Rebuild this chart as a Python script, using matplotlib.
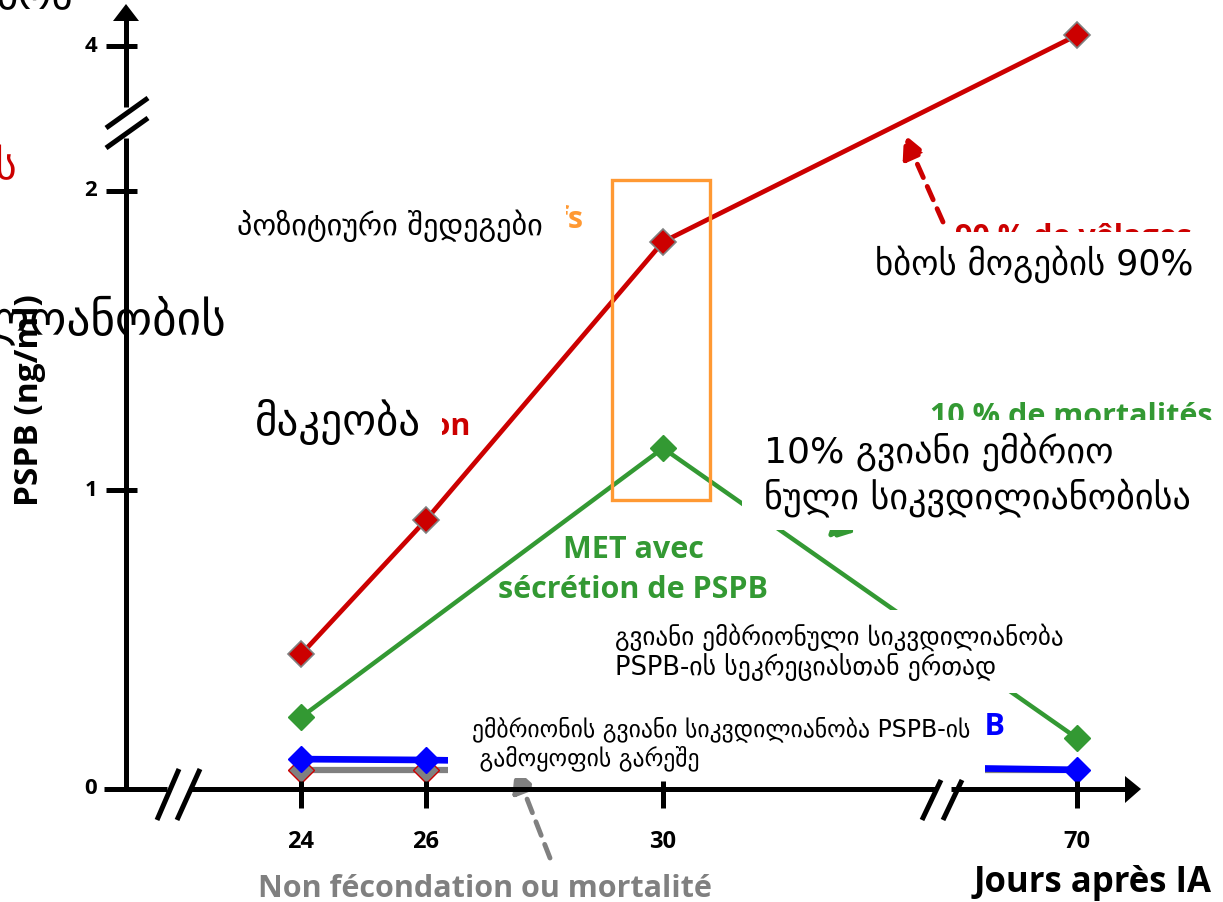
import numpy as np
import matplotlib
matplotlib.use("Agg")
import matplotlib.pyplot as plt
from matplotlib.transforms import Affine2D, blended_transform_factory
from matplotlib.patches import Rectangle, Polygon

# x ticks (days after AI) and y ticks (PSPB ng/ml)
x_ticks = [24, 26, 30, 70]
x_tick_labels = ['24', '26', '30', '70']
y_ticks = [0, 1, 2, 4]
y_tick_labels = ['0', '1', '2', '4']

# series
days_gest = [24, 26, 30, 70]
pspb_gest = [0.45, 0.90, 1.83, 4.15]          # gestation (red)
days_met = [24, 30, 70]
pspb_met = [0.24, 1.14, 0.17]                 # MET avec sécrétion de PSPB (green)
days_met_no = [24, 26, 70]
pspb_met_no = [0.10, 0.097, 0.064]            # MET sans sécrétion (blue)
days_nonfec = [24, 26, 70]
pspb_nonfec = [0.064, 0.064, 0.064]           # non fécondation (gray)

RED = '#CC0000'
GREEN = '#339933'
BLUE = '#0000FF'
GRAY = '#808080'
ORANGE = '#FF9933'
LAT = ['Open Sans', 'DejaVu Sans']
GEO = ['DejaVu Sans']

W, H = 1223, 902
fig = plt.figure(figsize=(W / 100, H / 100), dpi=100)
ax = fig.add_axes([0, 0, 1, 1])
ax.axis('off')

# broken axes: piecewise scales (gap between 30 and 70 days, and between 2 and 4)
xd = [0, 24, 26, 30, 70, 100]
xp = [301 - 24 * 61, 301, 426, 663, 1077, 1077 + 30 * 60]
yd = [-5, 0, 2, 4, 10]
yp = [-5 * 299, 0, 598, 743, 743 + 6 * 72]


def fx(d):
    return np.interp(d, xd, xp)


def ix(p):
    return np.interp(p, xp, xd)


def fy(v):
    return np.interp(v, yd, yp)


def iy(p):
    return np.interp(p, yp, yd)


ax.set_xscale('function', functions=(fx, ix))
ax.set_yscale('function', functions=(fy, iy))
ax.set_xlim(ix(0), ix(W))
ax.set_ylim(iy(789 - H), iy(789))

# picture pixel coordinates (origin top-left) for the slide decorations
px = Affine2D().scale(1 / W, -1 / H).translate(0, 1) + fig.transFigure
xt = blended_transform_factory(ax.transData, px)
yt = blended_transform_factory(px, ax.transData)

# data lines
ax.plot(days_nonfec, pspb_nonfec, color=GRAY, lw=4.5, zorder=2)
ax.plot(days_nonfec[:2], pspb_nonfec[:2], 'D', ms=13, mfc=GRAY, mec=RED, mew=1, zorder=2)
ax.plot(days_met_no, pspb_met_no, color=BLUE, lw=4.8, marker='D', ms=13,
        mfc=BLUE, mec=BLUE, zorder=2.1)
ax.plot(days_met, pspb_met, color=GREEN, lw=3.2, marker='D', ms=13,
        mfc=GREEN, mec=GREEN, zorder=2.2)
ax.plot(days_gest, pspb_gest, color=RED, lw=3.4, marker='D', ms=13,
        mfc=RED, mec=GRAY, mew=1.2, zorder=2.3)

# highlight box around day 30
ax.add_patch(Rectangle((612, 180), 98, 320, fill=False, ec=ORANGE, lw=2.4,
                       transform=px, zorder=2.5))

# French labels (partly hidden under the Georgian ones)
fr = dict(fontsize=22, fontweight='bold', family=LAT, va='baseline',
          transform=px, zorder=3)
ax.text(633, 558, 'MET avec', color=GREEN, ha='center', **fr)
ax.text(633, 598, 'sécrétion de PSPB', color=GREEN, ha='center', **fr)
ax.text(955, 246, '90 % de vêlages', color=RED, ha='left', **fr)
ax.text(930, 425, '10 % de mortalités', color=GREEN, ha='left', **fr)
ax.text(1005, 735, 'MET sans sécrétion de PSPB', color=BLUE, ha='right', **fr)
ax.text(583, 228, 'Diagnostics positifs', color=ORANGE, ha='right', **fr)
ax.text(471, 435, 'Gestation', color=RED, ha='right', **fr)
ax.text(258, 897, 'Non fécondation ou mortalité', color=GRAY, ha='left', **fr)

# dashed arrows
for tip, tail, col in [((904, 134), (943, 222), RED),
                       ((515, 768), (550, 858), GRAY),
                       ((826, 541), (900, 470), GREEN)]:
    ax.annotate('', xy=tip, xytext=tail, xycoords=px, textcoords=px,
                arrowprops=dict(arrowstyle='-|>,head_length=0.7,head_width=0.35',
                                color=col, lw=3.5, ls=(0, (3, 2)), mutation_scale=20,
                                shrinkA=0, shrinkB=0), zorder=3)

# white boxes of the Georgian overlay
masks = [(225, 200, 566, 250), (240, 395, 442, 460), (860, 232, 1215, 295),
         (742, 420, 1223, 530), (600, 610, 1100, 693), (448, 705, 985, 778)]
for x0, y0, x1, y1 in masks:
    ax.add_patch(Rectangle((x0, y0), x1 - x0, y1 - y0, fc='white', ec='none',
                           transform=px, zorder=4))

# Georgian texts
geo = [
    (237, 235, 'პოზიტიური შედეგები', 21.8),
    (255, 435, 'მაკეობა', 31),
    (875, 275, 'ხბოს მოგების 90%', 25),
    (764, 463, '10% გვიანი ემბრიო', 26),
    (764, 508, 'ნული სიკვდილიანობისა', 26),
    (615, 645, 'გვიანი ემბრიონული სიკვდილიანობა', 18),
    (615, 675, 'PSPB-ის სეკრეციასთან ერთად', 18.5),
    (472, 736, 'ემბრიონის გვიანი სიკვდილიანობა PSPB-ის', 17),
    (472, 765, ' გამოყოფის გარეშე', 17),
]
for x, y, s, fs in geo:
    ax.text(x, y, s, fontsize=fs, family=GEO, color='black', ha='left',
            va='baseline', transform=px, zorder=5)
ax.text(227, 335, 'ორსულოანობის', fontsize=34, family=GEO, color='black',
        ha='right', va='baseline', transform=px, zorder=1)
ax.text(17, 178, 'მაკეობის', fontsize=30, family=GEO, color=RED,
        ha='right', va='baseline', transform=px, zorder=1)
ax.text(73, 9, 'ხბოს', fontsize=30, family=GEO, color='black',
        ha='right', va='baseline', transform=px, zorder=1)

# hand-drawn axes with breaks
k = dict(color='black', lw=3.6, solid_capstyle='butt', zorder=6)
ax.plot([126, 126], [789, 138], transform=px, **k)
ax.plot([126, 126], [107, 20], transform=px, **k)
ax.plot([106, 148], [128, 98], transform=px, **k)
ax.plot([106, 148], [148, 118], transform=px, **k)
ax.add_patch(Polygon([(113, 21), (139, 21), (126, 4)], closed=True, fc='black',
                     ec='none', transform=px, zorder=6))
ax.plot([104, 167], [789, 789], transform=px, **k)
ax.plot([191, 936], [789, 789], transform=px, **k)
ax.plot([951, 1126], [789, 789], transform=px, **k)
ax.plot([157, 179], [820, 769], transform=px, **k)
ax.plot([177, 200], [820, 769], transform=px, **k)
ax.plot([922, 941], [820, 780], transform=px, **k)
ax.plot([943, 962], [820, 780], transform=px, **k)
ax.add_patch(Polygon([(1125, 776), (1125, 803), (1141, 789)], closed=True,
                     fc='black', ec='none', transform=px, zorder=6))

for d, lab in zip(x_ticks, x_tick_labels):
    ax.plot([d, d], [781, 808], transform=xt, **k)
    ax.text(d, 842, lab, fontsize=17, fontweight='bold', family=LAT,
            ha='center', va='center', transform=xt, zorder=6)
for v, lab in zip(y_ticks, y_tick_labels):
    if v > 0:
        ax.plot([106, 137], [v, v], transform=yt, **k)
    ax.text(97, v, lab, fontsize=16, fontweight='bold', family=LAT,
            ha='right', va='center', transform=yt, zorder=6)

ax.text(30, 400, 'PSPB (ng/ml)', fontsize=24, fontweight='bold', family=LAT,
        rotation=90, ha='center', va='center', transform=px, zorder=7)
ax.text(1212, 892, 'Jours après IA', fontsize=25, fontweight='bold', family=LAT,
        ha='right', va='baseline', transform=px, zorder=6)

fig.savefig('out.png', dpi=100)
